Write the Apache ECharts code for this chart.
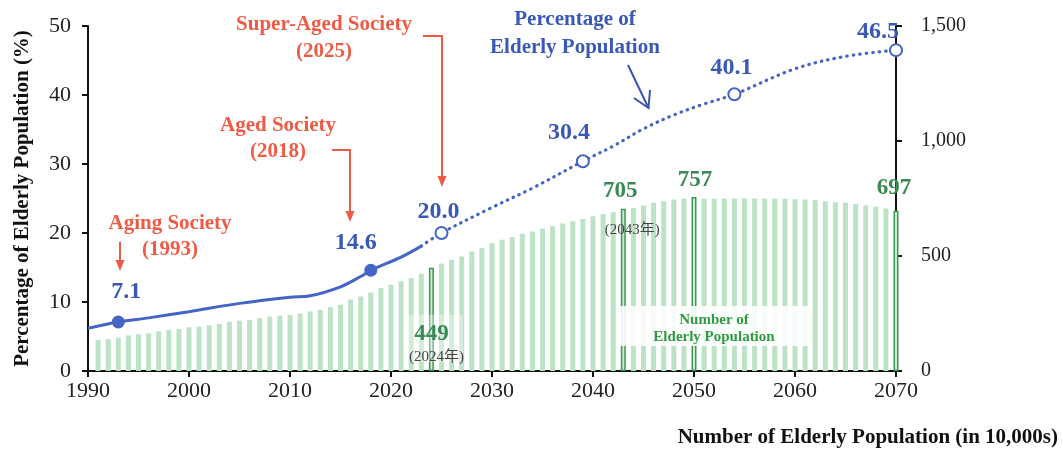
<!DOCTYPE html>
<html><head><meta charset="utf-8">
<script src="https://cdn.jsdelivr.net/npm/echarts@6/dist/echarts.min.js"></script>
<style>html,body{margin:0;padding:0;background:#fff}#c{width:1063px;height:450px}</style>
</head><body><div id="c"></div>
<script>
// ---------- data ----------
const barYears = Array.from({ length: 80 }, (_, i) => 1991 + i);
const barValues = [
  135, 139, 145, 155, 160, 164, 173, 179, 182, 190,   // 1991-2000
  193, 199, 205, 214, 219, 222, 230, 237, 241, 244,   // 2001-2010
  250, 259, 266, 278, 288, 310, 324, 341, 361, 375,   // 2011-2020
  390, 404, 423, 449, 467, 484, 498, 520, 535, 557,   // 2021-2030
  571, 583, 597, 607, 618, 629, 641, 651, 661, 673,   // 2031-2040
  683, 690, 705, 709, 720, 731, 738, 746, 750, 757,   // 2041-2050
  749, 749, 750, 750, 750, 750, 750, 750, 749, 747,   // 2051-2060
  746, 743, 738, 734, 731, 726, 720, 714, 706, 697    // 2061-2070
];
const highlightYears = [2024, 2043, 2050, 2070];
const noteYears = [2024, 2043];
const noteTexts = ['(2024年)', '(2043年)'];

const pctSolidYears = [1990, 1993, 1996, 2000, 2005, 2010, 2012, 2015, 2017, 2018, 2021, 2023];
const pctSolidValues = [6.2, 7.1, 7.7, 8.6, 9.8, 10.7, 10.9, 12.2, 13.7, 14.6, 16.5, 18.1];
const pctProjYears = [2023, 2025, 2030, 2034, 2039, 2042, 2045, 2048, 2051, 2054, 2060, 2065, 2070];
const pctProjValues = [18.1, 20.0, 23.7, 26.5, 30.4, 32.6, 35.1, 37.1, 38.7, 40.1, 43.8, 45.6, 46.5];

const markerYears = [1993, 2018, 2025, 2039, 2054, 2070];
const markerValues = [7.1, 14.6, 20.0, 30.4, 40.1, 46.5];
const markerFilled = [true, true, false, false, false, false];

const leftTicks = { min: 0, max: 50, interval: 10 };
const rightTicks = { min: 0, max: 1500, interval: 500 };
const xTicks = { min: 1990, max: 2070, interval: 10 };

// ---------- styles ----------
const SERIF = "'Liberation Serif', 'Times New Roman', 'Noto Sans CJK SC', serif";
const RED = '#ee5b45';
const BLUE_LINE = '#4565c6';
const BLUE_TXT = '#3a58b5';
const GREEN_NUM = '#3b8a55';
const BAR = '#bce3c5';
const markerLabelOffsets = [[8, -30], [-15, -27], [-3, -21], [-14, -28], [-3, -27], [-18, -18]];
const numberLabelOffsets = { 2024: [0, 66], 2043: [-3, -18], 2050: [1, -17], 2070: [-2, -23] };
const noteLabelOffsets = { 2024: [5, 89], 2043: [9, 21] };

const valueOf = y => barValues[barYears.indexOf(y)];

const barData = barYears.map((y, i) => {
  const item = { value: [y, barValues[i]] };
  if (highlightYears.includes(y)) {
    item.itemStyle = { color: '#c9ebd0', borderColor: '#3a9a55', borderWidth: 1.5 };
  }
  return item;
});

const axisLineStyle = { color: '#111', width: 2 };

const option = {
  animation: false,
  backgroundColor: '#fff',
  title: {
    text: 'Number of Elderly Population (in 10,000s)',
    right: 5, top: 427, padding: 0,
    textStyle: { fontFamily: SERIF, fontWeight: 'bold', fontSize: 21, color: '#111' }
  },
  grid: { left: 88, right: 167, top: 26, bottom: 79 },
  xAxis: {
    type: 'value', min: xTicks.min, max: xTicks.max, interval: xTicks.interval,
    axisLine: { show: true, lineStyle: axisLineStyle },
    axisTick: { show: true, length: 6, lineStyle: axisLineStyle },
    axisLabel: { color: '#222', fontSize: 22, fontFamily: SERIF, margin: 9, formatter: v => String(v) },
    splitLine: { show: false }
  },
  yAxis: [
    {
      type: 'value', position: 'left', min: leftTicks.min, max: leftTicks.max, interval: leftTicks.interval,
      axisLine: { show: true, lineStyle: axisLineStyle },
      axisTick: { show: true, length: 6, lineStyle: axisLineStyle },
      axisLabel: { color: '#222', fontSize: 22, fontFamily: SERIF, margin: 17 },
      splitLine: { show: false },
      name: 'Percentage of Elderly Population (%)',
      nameLocation: 'middle', nameRotate: 90, nameGap: 55,
      nameTextStyle: { fontFamily: SERIF, fontWeight: 'bold', fontSize: 21, color: '#111' }
    },
    {
      type: 'value', position: 'right', min: rightTicks.min, max: rightTicks.max, interval: rightTicks.interval,
      axisLine: { show: true, lineStyle: axisLineStyle },
      axisTick: { show: true, length: 6, lineStyle: axisLineStyle },
      axisLabel: { color: '#222', fontSize: 20, fontFamily: SERIF, margin: 25,
        formatter: v => v.toLocaleString('en-US') },
      splitLine: { show: false }
    }
  ],
  series: [
    {
      name: 'Number of Elderly Population', type: 'bar', yAxisIndex: 1,
      barWidth: 5, z: 2,
      itemStyle: { color: BAR },
      data: barData
    },
    {
      name: 'bar numbers', type: 'scatter', yAxisIndex: 1, z: 10,
      symbolSize: 1, itemStyle: { color: 'rgba(0,0,0,0)', opacity: 1 }, silent: true,
      data: highlightYears.map(y => ({
        value: [y, valueOf(y)],
        label: { show: true, position: 'inside', offset: numberLabelOffsets[y],
          formatter: p => String(p.value[1]),
          fontFamily: SERIF, fontWeight: 'bold', fontSize: 23, color: GREEN_NUM }
      }))
    },
    {
      name: 'bar notes', type: 'scatter', yAxisIndex: 1, z: 10,
      symbolSize: 1, itemStyle: { color: 'rgba(0,0,0,0)', opacity: 1 }, silent: true,
      data: noteYears.map((y, i) => ({
        value: [y, valueOf(y)],
        label: { show: true, position: 'inside', offset: noteLabelOffsets[y],
          formatter: () => noteTexts[i],
          fontFamily: SERIF, fontSize: 15, color: '#444' }
      }))
    },
    {
      name: 'Percentage (actual)', type: 'line', yAxisIndex: 0, z: 6,
      smooth: 0.35, showSymbol: false,
      lineStyle: { color: BLUE_LINE, width: 3 },
      data: pctSolidYears.map((y, i) => [y, pctSolidValues[i]])
    },
    {
      name: 'Percentage (projected)', type: 'line', yAxisIndex: 0, z: 6,
      smooth: 0.35, showSymbol: false,
      lineStyle: { color: BLUE_LINE, width: 3.2, type: [0.5, 6], cap: 'round' },
      data: pctProjYears.map((y, i) => [y, pctProjValues[i]])
    },
    {
      name: 'Percentage markers', type: 'scatter', yAxisIndex: 0, z: 8,
      data: markerYears.map((y, i) => ({
        value: [y, markerValues[i]],
        symbolSize: markerFilled[i] ? 13 : 12,
        itemStyle: markerFilled[i]
          ? { color: BLUE_LINE, borderColor: BLUE_LINE, borderWidth: 0, opacity: 1 }
          : { color: '#fff', borderColor: BLUE_LINE, borderWidth: 2, opacity: 1 },
        label: { show: true, position: 'inside', offset: markerLabelOffsets[i],
          formatter: p => p.value[1].toFixed(1),
          fontFamily: SERIF, fontWeight: 'bold', fontSize: 24, color: BLUE_TXT }
      }))
    }
  ],
  graphic: [
    { type: 'rect', z: 3, shape: { x: 620, y: 306, width: 188, height: 40 },
      style: { fill: 'rgba(255,255,255,0.88)' } },
    { type: 'rect', z: 3, shape: { x: 405, y: 315, width: 58, height: 47 },
      style: { fill: 'rgba(255,255,255,0.35)' } },
    { type: 'text', z: 5, x: 714, y: 312,
      style: { text: 'Number of\nElderly Population', textAlign: 'center', lineHeight: 17,
        font: "bold 15px " + SERIF, fill: '#2f9a3f' } },
    { type: 'text', z: 5, x: 324, y: 11,
      style: { text: 'Super-Aged Society\n(2025)', textAlign: 'center', lineHeight: 27,
        font: "bold 21px " + SERIF, fill: RED } },
    { type: 'text', z: 5, x: 278, y: 113,
      style: { text: 'Aged Society\n(2018)', textAlign: 'center', lineHeight: 26,
        font: "bold 21px " + SERIF, fill: RED } },
    { type: 'text', z: 5, x: 170, y: 211,
      style: { text: 'Aging Society\n(1993)', textAlign: 'center', lineHeight: 26,
        font: "bold 21px " + SERIF, fill: RED } },
    { type: 'text', z: 5, x: 575, y: 6,
      style: { text: 'Percentage of\nElderly Population', textAlign: 'center', lineHeight: 28,
        font: "bold 21px " + SERIF, fill: BLUE_TXT } },
    { type: 'polyline', z: 5, shape: { points: [[120, 242], [120, 262]] },
      style: { stroke: RED, lineWidth: 2, fill: null } },
    { type: 'polygon', z: 5, shape: { points: [[115.5, 260], [124.5, 260], [120, 271]] },
      style: { fill: RED } },
    { type: 'polyline', z: 5, shape: { points: [[332, 150], [350, 150], [350, 213]] },
      style: { stroke: RED, lineWidth: 2, fill: null } },
    { type: 'polygon', z: 5, shape: { points: [[345.5, 211], [354.5, 211], [350, 222]] },
      style: { fill: RED } },
    { type: 'polyline', z: 5, shape: { points: [[423, 36], [442, 36], [442, 178]] },
      style: { stroke: RED, lineWidth: 2, fill: null } },
    { type: 'polygon', z: 5, shape: { points: [[437.5, 176], [446.5, 176], [442, 187]] },
      style: { fill: RED } },
    { type: 'polyline', z: 5, shape: { points: [[628, 65], [648.5, 108]] },
      style: { stroke: '#3a55b0', lineWidth: 2, fill: null } },
    { type: 'polyline', z: 5, shape: { points: [[634, 98], [648.5, 108], [650, 90]] },
      style: { stroke: '#3a55b0', lineWidth: 2, fill: null } }
  ]
};

const chart = echarts.init(document.getElementById('c'), null, { renderer: 'canvas' });
chart.setOption(option);
</script>
</body></html>
